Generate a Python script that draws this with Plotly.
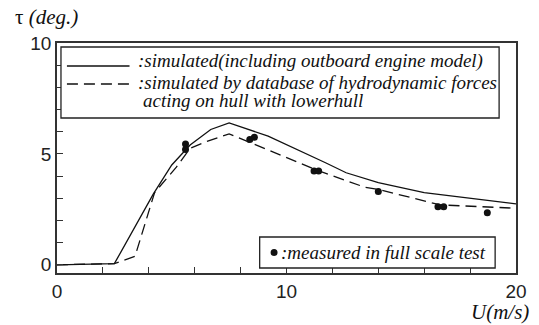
import plotly.graph_objects as go

# ---- data ----
sim_u = [0, 2.5, 4.2, 5.0, 5.8, 6.7, 7.5, 9.2, 11.7, 12.6, 14.0, 16.0, 20.0]
sim_tau = [0, 0.05, 3.2, 4.5, 5.4, 6.1, 6.4, 5.8, 4.6, 4.15, 3.7, 3.25, 2.75]

db_u = [0, 2.5, 3.4, 4.25, 5.2, 5.8, 6.5, 7.5, 9.2, 11.3, 13.4, 14.0, 16.7, 20.0]
db_tau = [0, 0.05, 0.38, 3.25, 4.4, 5.25, 5.55, 5.9, 5.18, 4.28, 3.5, 3.4, 2.7, 2.55]

meas_u = [5.6, 5.6, 8.4, 8.6, 11.2, 11.4, 14.0, 16.6, 16.85, 18.75]
meas_tau = [5.45, 5.2, 5.65, 5.75, 4.23, 4.23, 3.3, 2.62, 2.62, 2.35]

x_ticks_major = [0, 10, 20]
y_ticks_major = [0, 5, 10]

W, H = 539, 325
L, R, T, B = 57, 20, 43, 52
PW, PH = W - L - R, H - T - B


def px(x):
    return (x - L) / PW


def py(y):
    return (H - B - y) / PH


fig = go.Figure()
fig.add_trace(go.Scatter(x=sim_u, y=sim_tau, mode="lines",
                         line=dict(color="#111", width=1.3), showlegend=False))
fig.add_trace(go.Scatter(x=db_u, y=db_tau, mode="lines",
                         line=dict(color="#111", width=1.3, dash="11px,6px"), showlegend=False))
fig.add_trace(go.Scatter(x=meas_u, y=meas_tau, mode="markers",
                         marker=dict(color="#111", size=7), showlegend=False))

serif = "Liberation Serif"
sans = "Liberation Sans"
axcol = "#333"

fig.update_layout(
    width=W, height=H,
    margin=dict(l=L, r=R, t=T, b=B),
    paper_bgcolor="white", plot_bgcolor="white",
    xaxis=dict(range=[0, 20], tickvals=x_ticks_major, ticks="inside", ticklen=6,
               tickcolor=axcol, tickwidth=1.3,
               minor=dict(dtick=2, ticks="inside", ticklen=6, tickcolor=axcol, tickwidth=1.3),
               showgrid=False, zeroline=False, showline=True, linecolor=axcol, linewidth=1.5,
               mirror=True,
               tickfont=dict(family=sans, size=19, color="#222")),
    yaxis=dict(range=[-0.37, 10], tickvals=y_ticks_major, ticks="inside", ticklen=6,
               tickcolor=axcol, tickwidth=1.3,
               minor=dict(dtick=1, ticks="inside", ticklen=6, tickcolor=axcol, tickwidth=1.3),
               showgrid=False, zeroline=False, showline=True, linecolor=axcol, linewidth=1.5,
               mirror=True,
               tickfont=dict(family=sans, size=19, color="#222")),
)

shapes = []
# upper legend box
shapes.append(dict(type="rect", xref="paper", yref="paper",
                   x0=px(61), x1=px(502), y0=py(118), y1=py(47),
                   line=dict(color="#222", width=1.3), fillcolor="white", layer="above"))
shapes.append(dict(type="line", xref="paper", yref="paper",
                   x0=px(67), x1=px(130), y0=py(66), y1=py(66),
                   line=dict(color="#111", width=1.3), layer="above"))
shapes.append(dict(type="line", xref="paper", yref="paper",
                   x0=px(67), x1=px(130), y0=py(84), y1=py(84),
                   line=dict(color="#111", width=1.3, dash="11px,6px"), layer="above"))
# lower legend box
shapes.append(dict(type="rect", xref="paper", yref="paper",
                   x0=px(261), x1=px(498), y0=py(268), y1=py(237),
                   line=dict(color="#222", width=1.3), fillcolor="white", layer="above"))
shapes.append(dict(type="circle", xref="paper", yref="paper",
                   x0=px(272), x1=px(279), y0=py(256), y1=py(249),
                   line=dict(color="#111", width=0), fillcolor="#111", layer="above"))
fig.update_layout(shapes=shapes)

tf = dict(family=serif, size=19, color="#111")


def ann(text, x, y, xanchor="left", font=tf):
    fig.add_annotation(text=text, xref="paper", yref="paper", x=px(x), y=py(y),
                       xanchor=xanchor, yanchor="middle", showarrow=False, font=font)


ann("<i>:simulated(including outboard engine model)</i>", 137, 61)
ann("<i>:simulated by database of hydrodynamic forces</i>", 137, 82)
ann("<i>acting on hull with lowerhull</i>", 142, 100)
ann("<i>:measured in full scale test</i>", 280, 252)

lf = dict(family=serif, size=21, color="#111")
ann("τ <i>(deg.)</i>", 13, 17, font=lf)
ann("<i>U(m/s)</i>", 534, 312, xanchor="right", font=lf)

fig.write_html("out.html")
